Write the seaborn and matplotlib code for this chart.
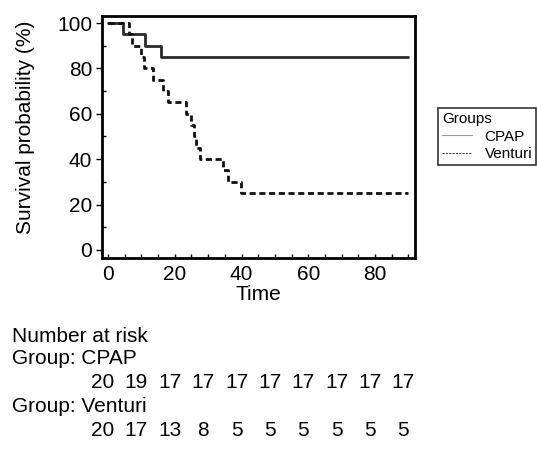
"""
plot.py
Kaplan-Meier survival curves, CPAP vs Venturi, with number-at-risk table
"""
import pandas as pd
import matplotlib
matplotlib.use('Agg')
import matplotlib.pyplot as plt
from matplotlib.lines import Line2D
from matplotlib.ticker import MultipleLocator
import seaborn as sns

# DATA =================================

cpap_time = [0, 4.5, 11, 16, 90]
cpap_surv = [100, 95, 90, 85, 85]

venturi_time = [0, 6.3, 7.3, 10, 10.9, 13.6, 16.5, 18, 23.5, 24.8, 25.8, 26.5, 27.5, 34.5, 36, 39.8, 90]
venturi_surv = [100, 95, 90, 85, 80, 75, 70, 65, 60, 55, 50, 45, 40, 35, 30, 25, 25]

risk_times = [0, 10, 20, 30, 40, 50, 60, 70, 80, 90]
risk_cpap = [20, 19, 17, 17, 17, 17, 17, 17, 17, 17]
risk_venturi = [20, 17, 13, 8, 5, 5, 5, 5, 5, 5]

groups = ['CPAP', 'Venturi']

# PLOT =================================

sns.set_style('ticks')
plt.rcParams['font.family'] = ['Liberation Sans', 'DejaVu Sans']
plt.rcParams['text.color'] = 'black'
plt.rcParams['axes.labelcolor'] = 'black'
plt.rcParams['xtick.color'] = 'black'
plt.rcParams['ytick.color'] = 'black'

df = pd.concat([
    pd.DataFrame({'Time': cpap_time, 'Survival': cpap_surv, 'Group': 'CPAP'}),
    pd.DataFrame({'Time': venturi_time, 'Survival': venturi_surv, 'Group': 'Venturi'}),
], ignore_index=True)

fig = plt.figure(figsize=(5.37, 4.5), dpi=100)
ax = fig.add_axes([0.19, 0.427, 0.583, 0.537])

sns.lineplot(data=df, x='Time', y='Survival', hue='Group', style='Group',
             palette={'CPAP': '#2a2a2a', 'Venturi': '#111111'},
             dashes={'CPAP': '', 'Venturi': (2.2, 1.3)},
             drawstyle='steps-post', estimator=None, linewidth=2.0,
             legend=False, ax=ax)

ax.set_xlim(-1.8, 92)
ax.set_ylim(-3.5, 103)
ax.xaxis.set_major_locator(MultipleLocator(20))
ax.xaxis.set_minor_locator(MultipleLocator(5))
ax.yaxis.set_major_locator(MultipleLocator(20))
ax.yaxis.set_minor_locator(MultipleLocator(10))
ax.tick_params(axis='x', which='both', direction='in', length=3, width=1, labelsize=15, pad=5)
ax.tick_params(axis='y', which='major', direction='out', length=4, width=1, labelsize=15, pad=3)
ax.tick_params(axis='y', which='minor', direction='in', length=3, width=1)
for spine in ax.spines.values():
    spine.set_linewidth(2)
    spine.set_color('black')

ax.set_xlabel('Time', fontsize=15, labelpad=1)
ax.set_ylabel('Survival probability (%)', fontsize=15)
ax.yaxis.set_label_coords(-0.215, 0.54)

# legend to the right of the axes
handles = [Line2D([], [], color='#999999', linewidth=0.8),
           Line2D([], [], color='#444444', linewidth=0.8, linestyle=(0, (2, 1)))]
leg = fig.legend(handles, groups, title='Groups', loc='upper left',
                 bbox_to_anchor=(0.8156, 0.76), fontsize=11, title_fontsize=11,
                 frameon=True, fancybox=False, edgecolor='black',
                 handlelength=2.0, handletextpad=0.8, borderpad=0.25,
                 labelspacing=0.25, alignment='left', borderaxespad=0)
leg.get_frame().set_linewidth(1.2)

# number at risk table
trans = matplotlib.transforms.blended_transform_factory(ax.transData, fig.transFigure)
fig.text(0.022, 1 - 337 / 450, 'Number at risk', fontsize=15, va='center')
fig.text(0.022, 1 - 359 / 450, 'Group: CPAP', fontsize=15, va='center')
fig.text(0.022, 1 - 407 / 450, 'Group: Venturi', fontsize=15, va='center')
for t, n in zip(risk_times, risk_cpap):
    fig.text(t - 1.5, 1 - 383 / 450, str(n), transform=trans, fontsize=15, ha='center', va='center')
for t, n in zip(risk_times, risk_venturi):
    fig.text(t - 1.5, 1 - 430 / 450, str(n), transform=trans, fontsize=15, ha='center', va='center')

fig.savefig('out.png', dpi=100)
